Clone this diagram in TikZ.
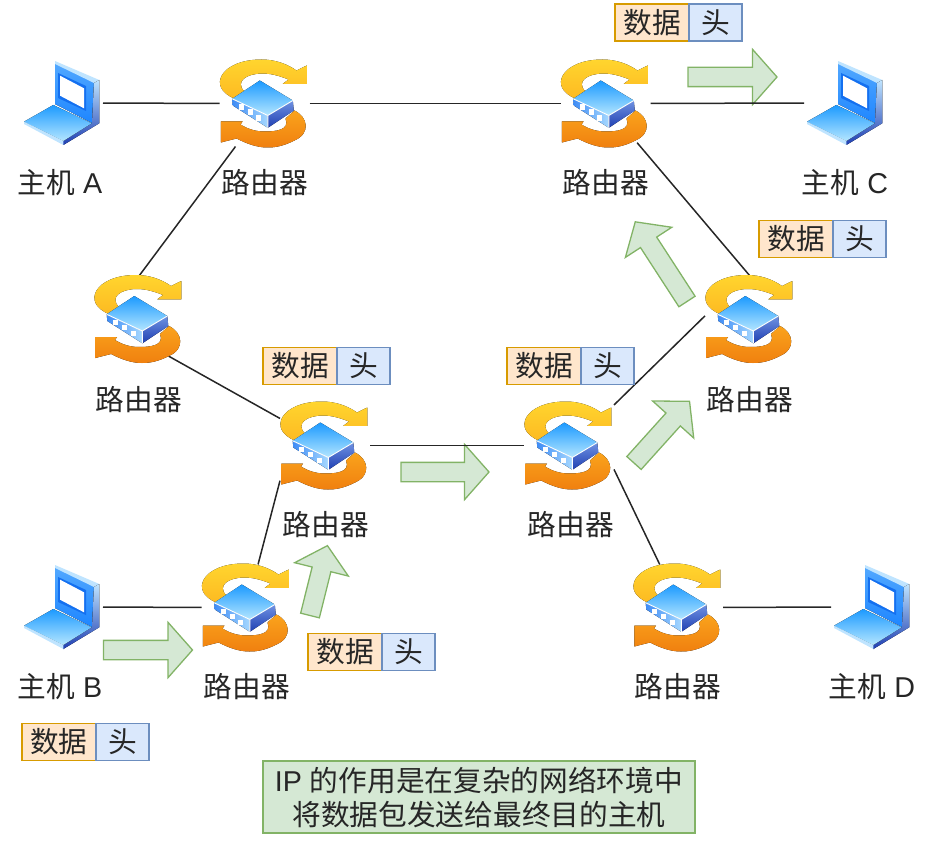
\documentclass[tikz,border=0pt]{standalone}
\usepackage{fontspec}
\setmainfont{Liberation Sans}
\newfontfamily\cjk{Noto Sans CJK SC}
\usetikzlibrary{positioning,shapes.arrows}
\definecolor{packetorange}{HTML}{FFE6CC}
\definecolor{packetorangeline}{HTML}{D79B00}
\definecolor{packetblue}{HTML}{DAE8FC}
\definecolor{packetblueline}{HTML}{6C8EBF}
\definecolor{notegreen}{HTML}{D5E8D4}
\definecolor{notegreenline}{HTML}{82B366}
\definecolor{goldtop}{HTML}{FFD52E}
\definecolor{goldbottom}{HTML}{FDBA22}
\definecolor{ambertop}{HTML}{FAA31C}
\definecolor{amberbottom}{HTML}{F0800F}
\definecolor{skytop}{HTML}{1C9AFF}
\definecolor{skybottom}{HTML}{B4E6FF}
\definecolor{sideleft}{HTML}{3F8CF5}
\definecolor{sideright}{HTML}{A6D8FF}
\definecolor{darktop}{HTML}{6F92E2}
\definecolor{darkbottom}{HTML}{1F3FB2}
\definecolor{frametop}{HTML}{52A8FF}
\definecolor{framebottom}{HTML}{1E86FF}
\definecolor{frameinner}{HTML}{1470F0}
\definecolor{edgelight}{HTML}{BFE4FF}
\tikzset{
      textfont/.style = { font=\fontsize{28.7}{34}\selectfont, text=black!85 },
     routerbox/.style = { minimum width=90, minimum height=86, inner sep=0pt, outer sep=0pt },
       hostbox/.style = { minimum width=82, minimum height=86, inner sep=0pt, outer sep=0pt },
        device/.style = { textfont, inner sep=0pt },
      datacell/.style = { textfont, draw=packetorangeline, fill=packetorange, line width=1.3pt,
                          minimum width=74, minimum height=37, inner sep=0pt, outer sep=0pt },
      headcell/.style = { textfont, draw=packetblueline, fill=packetblue, line width=1.3pt,
                          minimum width=53, minimum height=37, inner sep=0pt, outer sep=0pt },
          flow/.style = { single arrow, draw=notegreenline, fill=notegreen, line width=1.3pt,
                          minimum width=54, single arrow head extend=18, single arrow tip angle=97,
                          inner xsep=0pt, inner ysep=9pt, outer sep=0pt, anchor=tail },
          link/.style = { line width=1.5pt, black!85 },
          note/.style = { textfont, draw=notegreenline, fill=notegreen, line width=1.3pt, align=center,
                          minimum width=432, minimum height=72, inner sep=0pt, outer sep=0pt },
        router/.pic = {
          % yellow and orange arrows
          \fill[top color=goldtop, bottom color=goldbottom]
            (-30,-5) .. controls (-58,-16) and (-44,-44) .. (-3,-44)
            .. controls (10,-44) and (22,-40) .. (32,-33) -- (42.3,-38) -- (42.3,-19.7) -- (18.3,-19.7)
            -- (24,-24) .. controls (14,-28) and (6,-30) .. (-2,-30)
            .. controls (-18,-30) and (-30,-22) .. (-20,-12) -- cycle;
          \fill[top color=ambertop, bottom color=amberbottom]
            (30,7) .. controls (44,14) and (46,30) .. (30,37) .. controls (18,43) and (10,44) .. (3,44)
            .. controls (-8,44) and (-18,40) .. (-28,35) -- (-43.7,39) -- (-43.7,18) -- (-22,18)
            -- (-24,21) .. controls (-16,26) and (-8,28) .. (0,28)
            .. controls (10,28) and (26,27) .. (21,15) -- cycle;
          % box
          \fill[left color=sideleft, right color=sideright] (-32.3,-4.7) -- (3.3,12) -- (3.3,24.3) -- (-31.7,2) -- cycle;
          \fill[top color=darktop, bottom color=darkbottom] (3.3,12) -- (28.3,-3) -- (29.3,7) -- (3.3,24.3) -- cycle;
          \fill[top color=skytop, bottom color=skybottom] (-4.7,-23) -- (28.3,-3) -- (3.3,12) -- (-32.3,-4.7) -- cycle;
          \draw[white, line width=0.9pt] (-32.3,-4.7) -- (3.3,12) -- (28.3,-3) (3.3,12) -- (3.3,24.3);
          \fill[white] (-25.8,1) rectangle (-20.8,6.4);
          \fill[white] (-16.8,6) rectangle (-11.8,11.4);
          \fill[white] (-8.2,12) rectangle (-3.2,17.4);
        },
          host/.pic = {
          % screen
          \fill[top color=frametop, bottom color=framebottom] (-7,-40) -- (32,-21) -- (30,20) -- (-7,1) -- cycle;
          \fill[edgelight] (-7,-42) -- (37.3,-23) -- (32,-20) -- (-7,-39) -- cycle;
          \fill[top color=edgelight, bottom color=darkbottom] (37.3,-23) -- (37.3,20.3) -- (1.3,42) -- (1.3,38) -- (30,20) -- (32,-20) -- cycle;
          \fill[frameinner] (-4,-30) -- (24,-17) -- (24,8) -- (-4,-5) -- cycle;
          \fill[white] (-2,-27.3) -- (22,-14.7) -- (22,5.3) -- (-2,-7.3) -- cycle;
          % keyboard
          \fill[top color=skytop, bottom color=skybottom] (-38,18.7) -- (-8.7,2) -- (29.7,20.3) -- (1.3,38) -- cycle;
          \fill[edgelight] (-38,18.7) -- (1.3,38) -- (1.3,42) -- (-38,21) -- cycle;
        }
}
\begin{document}
\begin{tikzpicture}[x=1pt, y=-1pt]
  \useasboundingbox (0,0) rectangle (946,856);

  % routers and hosts
  \node (r1) at(264.5,103.5) [routerbox] {};
  \node (r2) at(605.5,103.5) [routerbox] {};
  \node (r3) at(139,319) [routerbox] {};
  \node (r4) at(325,445.5) [routerbox] {};
  \node (r5) at(569,445.5) [routerbox] {};
  \node (r6) at(750,319) [routerbox] {};
  \node (r7) at(246.5,607.5) [routerbox] {};
  \node (r8) at(678,607.5) [routerbox] {};
  \node (hosta) at(62,103) [hostbox] {};
  \node (hostb) at(62,607) [hostbox] {};
  \node (hostc) at(845,103) [hostbox] {};
  \node (hostd) at(872,607) [hostbox] {};

  % green arrows
  \node (flow1) at(103.5,650) [flow, minimum height=89] {};
  \node (flow2) at(310,615.5) [flow, minimum height=72, rotate=76] {};
  \node (flow3) at(401,472) [flow, minimum height=88] {};
  \node (flow4) at(634,463) [flow, minimum height=83, rotate=48] {};
  \node (flow5) at(687,301.5) [flow, minimum height=95, rotate=123] {};
  \node (flow6) at(688,77) [flow, minimum height=89] {};

  % links
  \draw[link] (hosta) -- (r1);
  \draw[link] (r1) -- (r2);
  \draw[link] (r2) -- (hostc);
  \draw[link] (r1.236) -- (r3.north);
  \draw[link, shorten <=-12] (r3.313) -- (r4.149);
  \draw[link] (r4) -- (r5);
  \draw[link] (r4.218) -- (r7.75);
  \draw[link] (hostb) -- (r7);
  \draw[link] (r5.42) -- (r6.176);
  \draw[link, shorten >=-5] (r6.north) -- (r2.309);
  \draw[link] (r5.332) -- (r8.113);
  \draw[link] (r8) -- (hostd);

  % icons
  \pic at(r1) {router};
  \pic at(r2) {router};
  \pic at(r3) {router};
  \pic at(r4) {router};
  \pic at(r5) {router};
  \pic at(r6) {router};
  \pic at(r7) {router};
  \pic at(r8) {router};
  \pic at(hosta) {host};
  \pic at(hostb) {host};
  \pic at(hostc) {host};
  \pic at(hostd) {host};

  % labels
  \node (lr1) at(265,183) [device] {\cjk 路由器};
  \node (lr2) at(606,183) [device] {\cjk 路由器};
  \node (lr3) at(139,399.5) [device] {\cjk 路由器};
  \node (lr4) at(326,525) [device] {\cjk 路由器};
  \node (lr5) at(571,525) [device] {\cjk 路由器};
  \node (lr6) at(750,399.5) [device] {\cjk 路由器};
  \node (lr7) at(247,687) [device] {\cjk 路由器};
  \node (lr8) at(678,687) [device] {\cjk 路由器};
  \node (lhosta) at(60,183) [device] {{\cjk 主机} A};
  \node (lhostb) at(60,687) [device] {{\cjk 主机} B};
  \node (lhostc) at(845,183) [device] {{\cjk 主机} C};
  \node (lhostd) at(872,687) [device] {{\cjk 主机} D};

  % packets
  \node (data1) at(615,22.5) [datacell, anchor=west] {\cjk 数据};
  \node (head1) [headcell, right=0pt of data1] {\cjk 头};
  \node (data2) at(759,239) [datacell, anchor=west] {\cjk 数据};
  \node (head2) [headcell, right=0pt of data2] {\cjk 头};
  \node (data3) at(263,366) [datacell, anchor=west] {\cjk 数据};
  \node (head3) [headcell, right=0pt of data3] {\cjk 头};
  \node (data4) at(507,366) [datacell, anchor=west] {\cjk 数据};
  \node (head4) [headcell, right=0pt of data4] {\cjk 头};
  \node (data5) at(308,652) [datacell, anchor=west] {\cjk 数据};
  \node (head5) [headcell, right=0pt of data5] {\cjk 头};
  \node (data6) at(22,742) [datacell, anchor=west] {\cjk 数据};
  \node (head6) [headcell, right=0pt of data6] {\cjk 头};

  % note
  \node (note) at(479,797) [note] {IP {\cjk 的作用是在复杂的网络环境中}\\{\cjk 将数据包发送给最终目的主机}};
\end{tikzpicture}
\end{document}
